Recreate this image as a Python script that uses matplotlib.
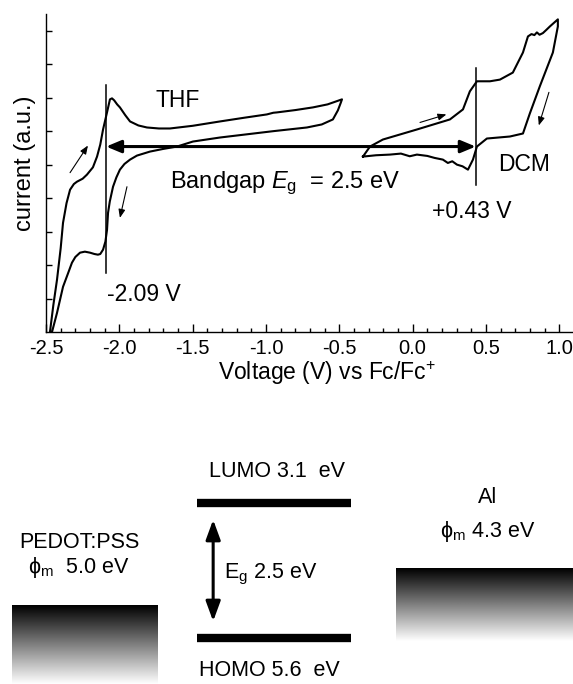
"""
Cyclic voltammetry (THF / DCM) with onset potentials and the derived
energy-level diagram. Outputs: out.png
"""

import numpy as np
import matplotlib
matplotlib.use("Agg")
import matplotlib.pyplot as plt

matplotlib.rcParams.update({
    "font.family": ["Liberation Sans", "DejaVu Sans"],
    "mathtext.fontset": "custom",
    "mathtext.rm": "Liberation Sans",
    "mathtext.it": "Liberation Sans:italic",
    "mathtext.bf": "Liberation Sans:bold",
})

# ── data ────────────────────────────────────────────────────────────────────
thf_v = [-2.473, -2.45, -2.425, -2.40, -2.384, -2.36, -2.336, -2.31, -2.289,
         -2.25, -2.221, -2.18, -2.152, -2.13, -2.111, -2.084, -2.064, -2.05,
         -2.035, -2.015, -1.996, -1.96, -1.927, -1.87, -1.812, -1.73, -1.655,
         -1.50, -1.314, -1.15, -0.994, -0.95, -0.926, -0.80, -0.680, -0.58,
         -0.482, -0.49, -0.51, -0.544, -0.62, -0.721, -0.95, -1.314, -1.498,
         -1.607, -1.70, -1.791, -1.88, -1.927, -1.965, -1.996, -2.02, -2.043,
         -2.065, -2.077, -2.084, -2.095, -2.111, -2.13, -2.146, -2.17, -2.200,
         -2.235, -2.268, -2.30, -2.323, -2.35, -2.384, -2.425, -2.459]
thf_i = [0.0, 0.80, 1.56, 2.50, 3.26, 3.85, 4.25, 4.42, 4.49,
         4.58, 4.70, 4.92, 5.24, 5.60, 6.05, 6.56, 6.95, 6.98,
         6.92, 6.80, 6.71, 6.48, 6.29, 6.17, 6.11, 6.08, 6.08,
         6.16, 6.29, 6.40, 6.50, 6.55, 6.56, 6.63, 6.71, 6.80,
         6.95, 6.85, 6.62, 6.35, 6.20, 6.11, 6.00, 5.81, 5.69,
         5.54, 5.47, 5.39, 5.27, 5.15, 5.02, 4.85, 4.62, 4.34,
         3.90, 3.56, 3.05, 2.70, 2.46, 2.33, 2.31, 2.33, 2.37,
         2.40, 2.37, 2.24, 2.07, 1.75, 1.35, 0.57, 0.0]

dcm_v = [-0.339, -0.291, -0.203, 0.029, 0.254, 0.343, 0.390, 0.438, 0.527,
         0.595, 0.683, 0.752, 0.786, 0.81, 0.83, 0.847, 0.865, 0.888, 0.91,
         0.936, 0.990, 0.990, 0.956, 0.867, 0.799, 0.752, 0.663, 0.506,
         0.438, 0.411, 0.377, 0.34, 0.302, 0.27, 0.24, 0.206, 0.15, 0.10,
         0.029, -0.02, -0.08, -0.155, -0.25, -0.339]
dcm_i = [5.24, 5.54, 5.75, 6.05, 6.35, 6.65, 7.19, 7.49, 7.49,
         7.54, 7.75, 8.35, 8.83, 8.90, 8.87, 8.95, 8.88, 8.93, 9.02,
         9.13, 9.34, 9.13, 8.35, 7.34, 6.53, 5.93, 5.84, 5.78,
         5.54, 5.15, 4.85, 4.95, 5.00, 5.10, 5.05, 5.15, 5.20, 5.26,
         5.30, 5.25, 5.33, 5.30, 5.28, 5.24]

E_RED = -2.09       # reduction onset (V vs Fc/Fc+)
E_OX = 0.43         # oxidation onset
BANDGAP = 2.5       # eV

LUMO, HOMO = 3.1, 5.6
PEDOT_WF, AL_WF = 5.0, 4.3

# ── figure ─────────────────────────────────────────────────────────────────
fig = plt.figure(figsize=(5.73, 6.84), dpi=100)

ax = fig.add_axes([46 / 573, 1 - 332 / 684, 528 / 573, 318 / 684])
ax.plot(thf_v, thf_i, color="black", lw=1.5)
ax.plot(dcm_v, dcm_i, color="black", lw=1.5)

# onset markers
ax.plot([E_RED, E_RED], [1.77, 7.37], color="black", lw=1.1)
ax.plot([E_OX, E_OX], [4.40, 7.90], color="black", lw=1.1)
ax.annotate("", xy=(E_RED, 5.54), xytext=(E_OX, 5.54),
            arrowprops=dict(arrowstyle="<|-|>,head_length=0.6,head_width=0.25",
                            lw=2.2, color="black", mutation_scale=15,
                            shrinkA=0, shrinkB=0))

# scan-direction arrows
for (x0, y0), (x1, y1) in [((-2.336, 4.76), (-2.214, 5.57)),
                           ((-1.948, 4.34), (-1.996, 3.41)),
                           ((0.05, 6.26), (0.23, 6.50)),
                           ((0.929, 7.16), (0.86, 6.17))]:
    ax.annotate("", xy=(x1, y1), xytext=(x0, y0),
                arrowprops=dict(arrowstyle="-|>,head_length=0.5,head_width=0.2",
                                lw=0.8, color="black", mutation_scale=10,
                                shrinkA=0, shrinkB=0))

ax.text(-1.604, 6.92, "THF", fontsize=16.5, ha="center", va="center")
ax.text(0.758, 5.0, "DCM", fontsize=16.5, ha="center", va="center")
ax.text(-1.655, 4.43, r"Bandgap $E_{\mathrm{g}}$  = %.1f eV" % BANDGAP,
        fontsize=17, ha="left", va="center")
ax.text(-2.084, 1.11, "%.2f V" % E_RED, fontsize=16.5, ha="left", va="center")
ax.text(0.131, 3.59, "+%.2f V" % E_OX, fontsize=16.5, ha="left", va="center")

ax.set_xlim(-2.5, 1.1)
ax.set_ylim(0, 9.5)
ax.set_xticks(np.arange(-2.5, 1.01, 0.5))
ax.set_xticklabels(["%.1f" % t for t in np.arange(-2.5, 1.01, 0.5)])
ax.set_xticks(np.arange(-2.5, 1.11, 0.1), minor=True)
ax.set_yticks(np.arange(1, 10))
ax.set_yticklabels([])
ax.tick_params(axis="x", which="major", direction="in", length=6, width=1,
               labelsize=14.5, pad=5)
ax.tick_params(axis="x", which="minor", direction="in", length=3, width=1)
ax.tick_params(axis="y", which="major", direction="in", length=4, width=1)
for s in ("top", "right"):
    ax.spines[s].set_visible(False)
for s in ("left", "bottom"):
    ax.spines[s].set_linewidth(1.0)
ax.set_xlabel(r"Voltage (V) vs Fc/Fc$^{+}$", fontsize=16.5, labelpad=4)
ax.xaxis.set_label_coords(0.532, -0.085)
ax.set_ylabel("current (a.u.)", fontsize=17)
ax.yaxis.set_label_coords(-0.018, 0.53)

# ── energy-level diagram ───────────────────────────────────────────────────
ax2 = fig.add_axes([0, 0, 1, 244 / 684])
e_bot = LUMO + (684 - 503) / 54
e_top = LUMO - (503 - 440) / 54

grad = np.linspace(0, 1, 256).reshape(-1, 1)
ax2.imshow(grad, extent=(12 / 573, 158 / 573, e_bot, PEDOT_WF),
           cmap="gray", vmin=0, vmax=1, aspect="auto")
ax2.imshow(grad, extent=(396 / 573, 1.0, AL_WF + 1.35, AL_WF),
           cmap="gray", vmin=0, vmax=1, aspect="auto")

ax2.hlines([LUMO, HOMO], 197 / 573, 351 / 573, color="black", lw=6)
ax2.annotate("", xy=(0.372, LUMO + 0.31), xytext=(0.372, HOMO - 0.31),
             arrowprops=dict(arrowstyle="<|-|>,head_length=0.6,head_width=0.22",
                             lw=2.2, color="black", mutation_scale=20,
                             shrinkA=0, shrinkB=0))

fs = 15.5
ax2.text(277 / 573, LUMO - 0.59, "LUMO %.1f  eV" % LUMO, fontsize=fs,
         ha="center", va="center")
ax2.text(269 / 573, HOMO + 0.61, "HOMO %.1f  eV" % HOMO, fontsize=fs,
         ha="center", va="center")
ax2.text(224 / 573, 4.43, r"E$_{\mathrm{g}}$ %.1f eV" % BANDGAP, fontsize=fs,
         ha="left", va="center")
ax2.text(79 / 573, 3.84, "PEDOT:PSS", fontsize=fs, ha="center", va="center")
ax2.text(79 / 573, 4.29, r"$\mathrm{\phi_m}$  %.1f eV" % PEDOT_WF, fontsize=fs,
         ha="center", va="center")
ax2.text(488 / 573, 2.99, "Al", fontsize=fs, ha="center", va="center")
ax2.text(488 / 573, 3.62, r"$\mathrm{\phi_m}$ %.1f eV" % AL_WF, fontsize=fs,
         ha="center", va="center")

ax2.set_xlim(0, 1)
ax2.set_ylim(e_bot, e_top)
ax2.axis("off")

fig.savefig("out.png", dpi=100)
plt.close(fig)
